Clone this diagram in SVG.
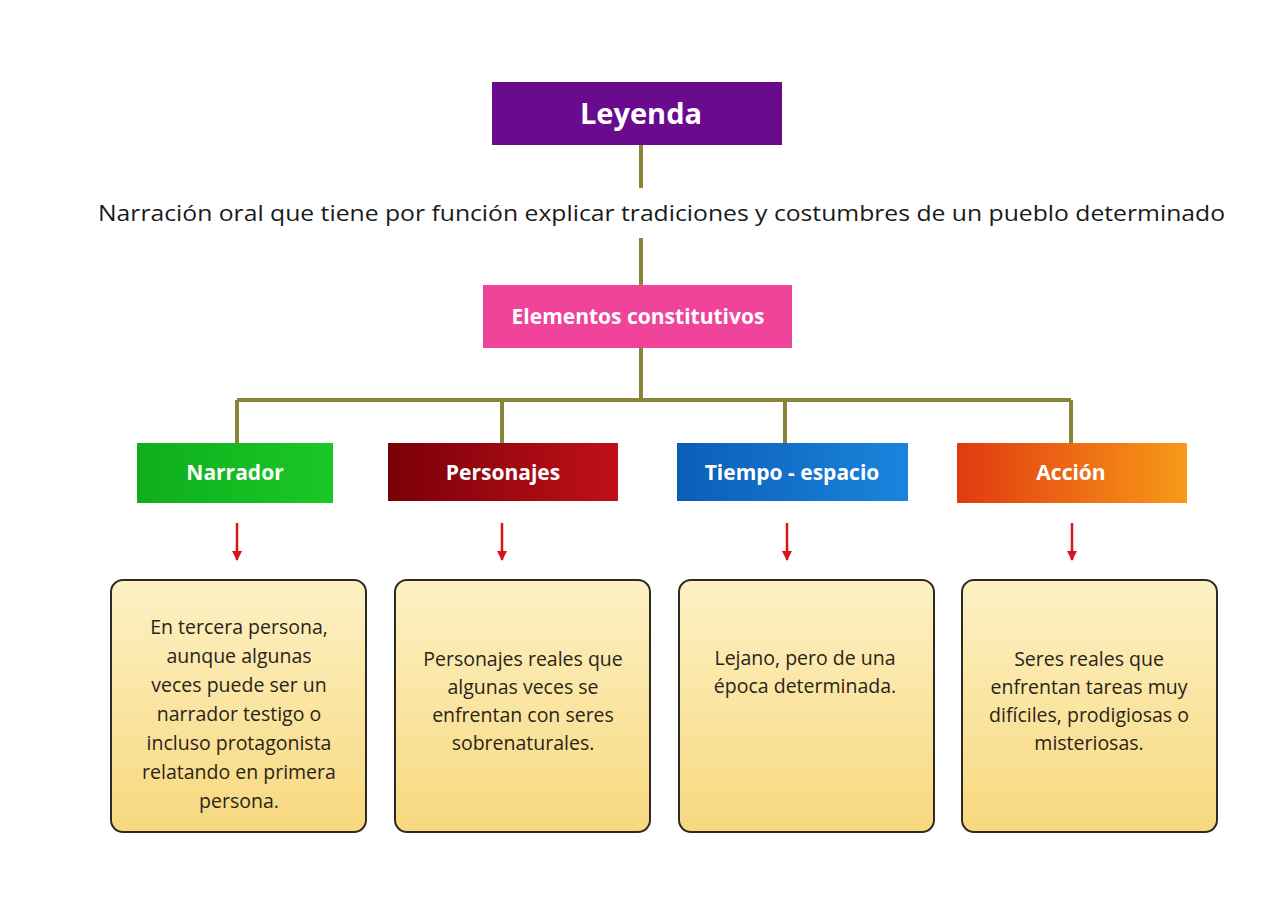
<svg xmlns="http://www.w3.org/2000/svg" width="1280" height="905" viewBox="0 0 1280 905">
<defs>
<linearGradient id="card" x1="0" y1="0" x2="0" y2="1"><stop offset="0" stop-color="#fdf1c4"/><stop offset="1" stop-color="#f7d87e"/></linearGradient>
<linearGradient id="gN" x1="0" y1="0" x2="1" y2="0"><stop offset="0" stop-color="#0fae1c"/><stop offset="1" stop-color="#1ac826"/></linearGradient>
<linearGradient id="gP" x1="0" y1="0" x2="1" y2="0"><stop offset="0" stop-color="#7a0008"/><stop offset="1" stop-color="#c0101a"/></linearGradient>
<linearGradient id="gT" x1="0" y1="0" x2="1" y2="0"><stop offset="0" stop-color="#0b5eb8"/><stop offset="1" stop-color="#1a84dc"/></linearGradient>
<linearGradient id="gA" x1="0" y1="0" x2="1" y2="0"><stop offset="0" stop-color="#e03a10"/><stop offset="1" stop-color="#f89a18"/></linearGradient>
<marker id="ar" viewBox="0 0 10 10" refX="9" refY="5" markerWidth="4" markerHeight="4" orient="auto"><path d="M0,0L10,5L0,10z" fill="#d8141c"/></marker>
<style>
.hd{font-family:"Open Sans","Liberation Sans",sans-serif;font-weight:bold;fill:#fff;text-anchor:middle}
.bx{font-family:"Open Sans","Liberation Sans",sans-serif;font-size:19.5px;fill:#2a2418;text-anchor:middle}
.card{fill:url(#card);stroke:#2e2a22;stroke-width:2}
.ln{stroke:#8a8436;stroke-width:4;fill:none}
.arr{stroke:#d8141c;stroke-width:2.5;marker-end:url(#ar)}
</style>
</defs>
<rect width="1280" height="905" fill="#fff"/>
<g id="connectors">
<path class="ln" d="M641 145V188M641 238V400M237 400H1071M237 400V445M502 400V445M785 400V445M1071 400V445"/>
<line class="arr" x1="237" y1="523" x2="237" y2="560"/>
<line class="arr" x1="502" y1="523" x2="502" y2="560"/>
<line class="arr" x1="787" y1="523" x2="787" y2="560"/>
<line class="arr" x1="1072" y1="523" x2="1072" y2="560"/>
</g>
<g id="leyenda"><rect x="492" y="82" width="290" height="63" fill="#6a0a8c"/><text class="hd" x="641" y="124" font-size="29">Leyenda</text></g>
<g id="definicion"><text x="98" y="221" font-family="'Open Sans','Liberation Sans',sans-serif" font-size="22" fill="#1a1a1a" textLength="1127" lengthAdjust="spacingAndGlyphs">Narración oral que tiene por función explicar tradiciones y costumbres de un pueblo determinado</text></g>
<g id="elementos"><rect x="483" y="285" width="309" height="63" fill="#f0449a"/><text class="hd" x="638" y="324" font-size="21">Elementos constitutivos</text></g>
<g id="narrador"><rect x="137" y="443" width="196" height="60" fill="url(#gN)"/><text class="hd" x="235" y="480" font-size="21">Narrador</text></g>
<g id="personajes"><rect x="388" y="443" width="230" height="58" fill="url(#gP)"/><text class="hd" x="503" y="480" font-size="21">Personajes</text></g>
<g id="tiempo"><rect x="677" y="443" width="231" height="58" fill="url(#gT)"/><text class="hd" x="792" y="480" font-size="21">Tiempo - espacio</text></g>
<g id="accion"><rect x="957" y="443" width="230" height="60" fill="url(#gA)"/><text class="hd" x="1071" y="480" font-size="21">Acción</text></g>
<g id="card1"><rect class="card" x="111" y="580" width="255" height="252" rx="12"/>
<text class="bx"><tspan x="239" y="634">En tercera persona,</tspan><tspan x="239" y="663">aunque algunas</tspan><tspan x="239" y="692">veces puede ser un</tspan><tspan x="239" y="721">narrador testigo o</tspan><tspan x="239" y="750">incluso protagonista</tspan><tspan x="239" y="779">relatando en primera</tspan><tspan x="239" y="808">persona.</tspan></text></g>
<g id="card2"><rect class="card" x="395" y="580" width="255" height="252" rx="12"/>
<text class="bx"><tspan x="523" y="666">Personajes reales que</tspan><tspan x="523" y="694">algunas veces se</tspan><tspan x="523" y="722">enfrentan con seres</tspan><tspan x="523" y="750">sobrenaturales.</tspan></text></g>
<g id="card3"><rect class="card" x="679" y="580" width="255" height="252" rx="12"/>
<text class="bx"><tspan x="805" y="665">Lejano, pero de una</tspan><tspan x="805" y="693">época determinada.</tspan></text></g>
<g id="card4"><rect class="card" x="962" y="580" width="255" height="252" rx="12"/>
<text class="bx"><tspan x="1089" y="666">Seres reales que</tspan><tspan x="1089" y="694">enfrentan tareas muy</tspan><tspan x="1089" y="722">difíciles, prodigiosas o</tspan><tspan x="1089" y="750">misteriosas.</tspan></text></g>
</svg>
